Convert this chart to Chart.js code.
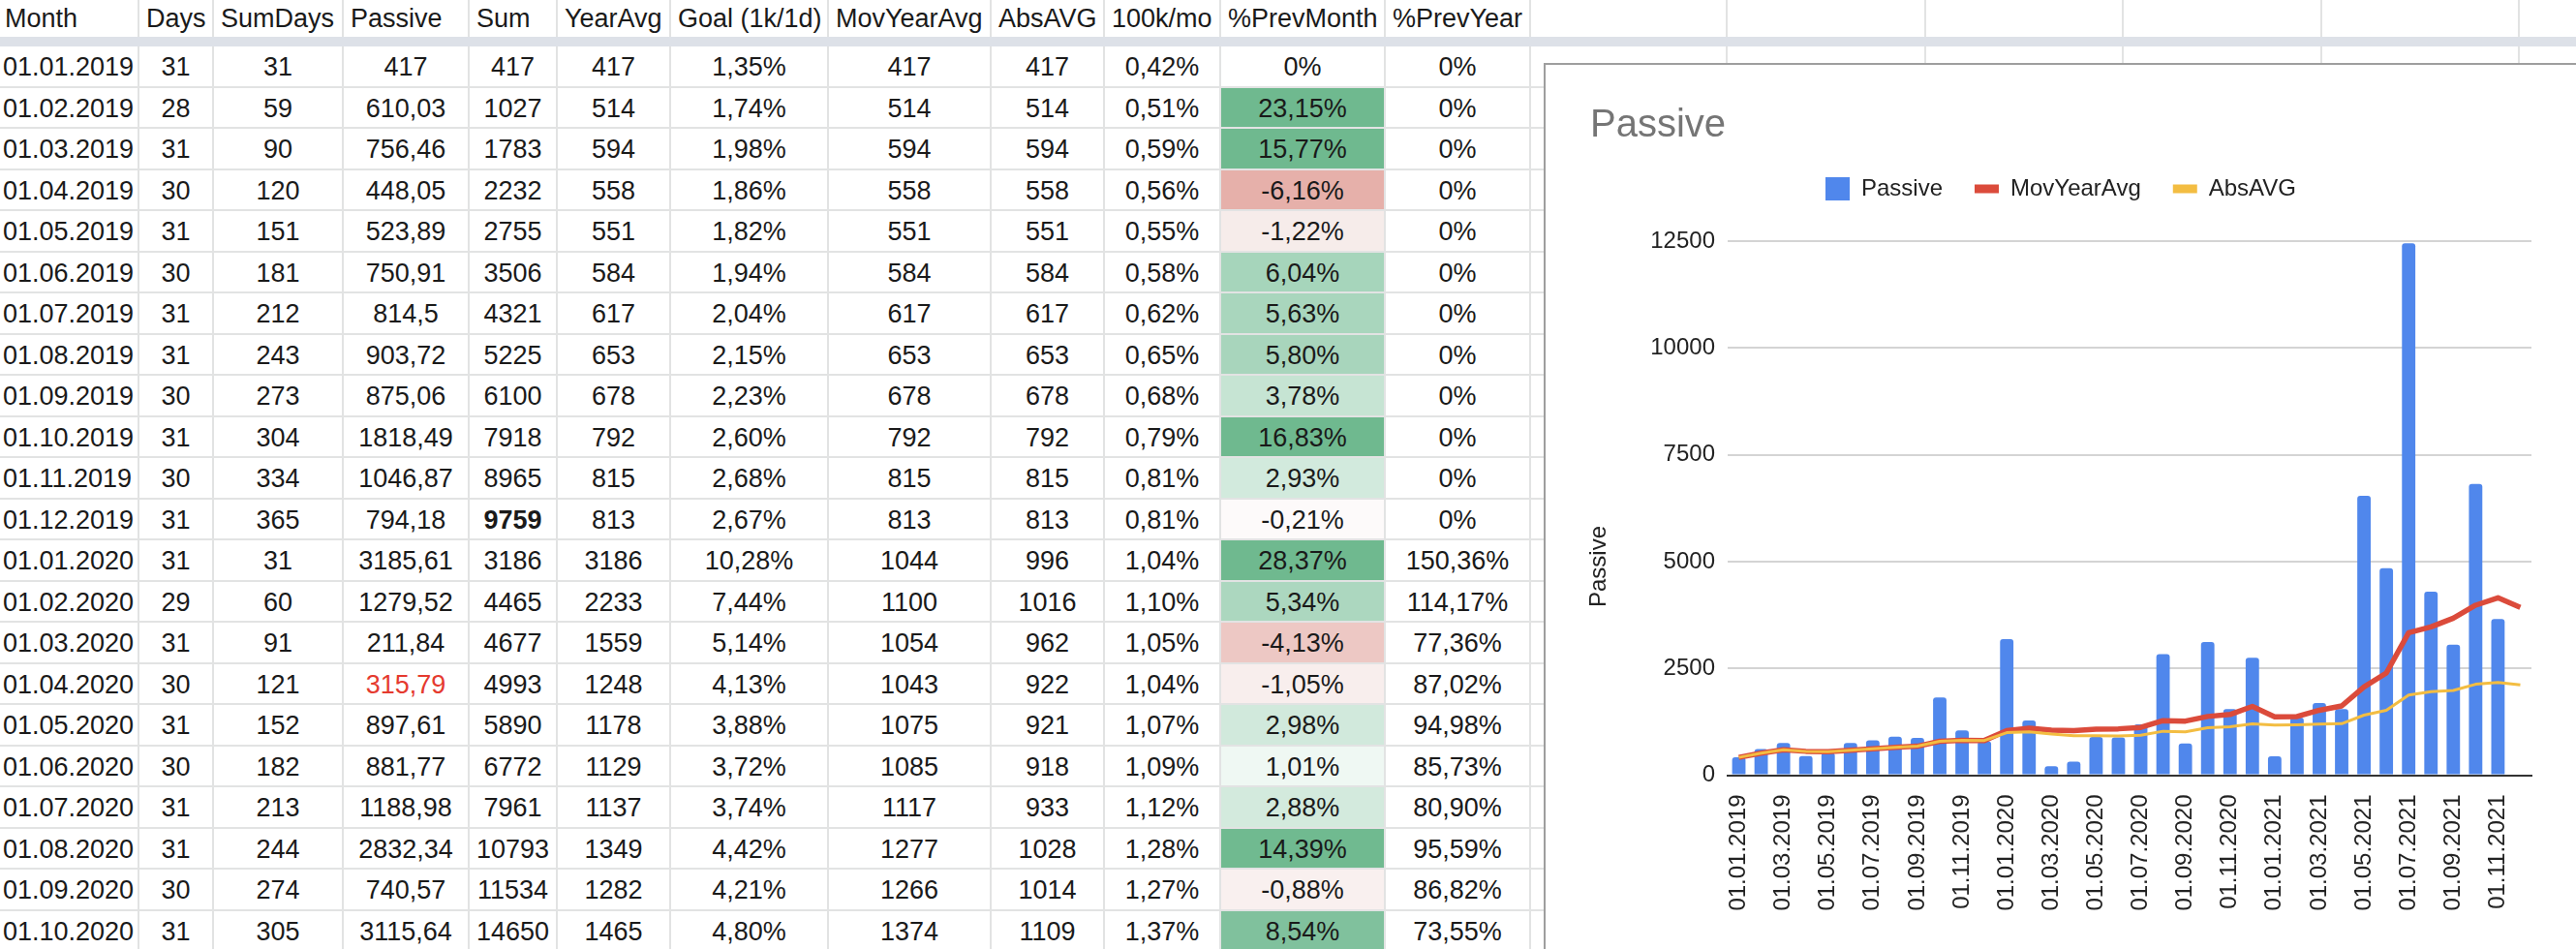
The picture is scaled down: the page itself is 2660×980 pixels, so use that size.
<!DOCTYPE html>
<html lang="de">
<head>
  <meta charset="UTF-8" />
  <title>Passive</title>
  <script src="https://cdn.jsdelivr.net/npm/chart.js"></script>
  <style>
    html, body { margin: 0; padding: 0; background: #fff; }
    body {
      width: 2660px; height: 980px; overflow: hidden; position: relative;
      font-family: "Liberation Sans", Arial, Helvetica, sans-serif; color: #1a1a1a;
    }
    .cell {
      position: absolute; box-sizing: border-box;
      border-right: 2px solid #e2e3e3; border-bottom: 2px solid #e2e3e3;
      font-size: 27px; white-space: nowrap; overflow: hidden;
    }
    .hd { line-height: 38px; padding-left: 7px; border-bottom: none; }
    .dt { line-height: 37.5px; padding-top: 3px; text-align: center; }
    .dt.first { text-align: left; padding-left: 3px; }
    .hd.first { padding-left: 5px; }
    .freeze { position: absolute; left: 0; top: 38px; width: 2660px; height: 10px; background: #dde1e8; }
    #chartBox {
      position: absolute; left: 1594px; top: 65px; width: 1080px; height: 930px;
      border: 2px solid #9e9e9e; background: #fff; z-index: 2;
    }
    #chartBox canvas { position: absolute; left: 0; top: 0; }
  </style>
</head>
<body>
  <div id="sheet"></div>
  <div class="freeze"></div>

  <div id="chartBox">
    <canvas id="passiveChart" width="1064" height="913"></canvas>
  </div>

  <script>
    // chart data (month per row, Dec 2021 has no Passive value)
    const months = [
      '01.01.2019', '01.02.2019', '01.03.2019', '01.04.2019', '01.05.2019', '01.06.2019',
      '01.07.2019', '01.08.2019', '01.09.2019', '01.10.2019', '01.11.2019', '01.12.2019',
      '01.01.2020', '01.02.2020', '01.03.2020', '01.04.2020', '01.05.2020', '01.06.2020',
      '01.07.2020', '01.08.2020', '01.09.2020', '01.10.2020', '01.11.2020', '01.12.2020',
      '01.01.2021', '01.02.2021', '01.03.2021', '01.04.2021', '01.05.2021', '01.06.2021',
      '01.07.2021', '01.08.2021', '01.09.2021', '01.10.2021', '01.11.2021', '01.12.2021'
    ];
    const passive = [
      417, 610.03, 756.46, 448.05, 523.89, 750.91, 814.5, 903.72, 875.06, 1818.49, 1046.87, 794.18,
      3185.61, 1279.52, 211.84, 315.79, 897.61, 881.77, 1188.98, 2832.34, 740.57, 3115.64, 1545, 2746,
      442, 1350, 1688, 1545, 6539, 4846, 12450, 4295, 3056, 6818, 3653, null
    ];
    const movYearAvg = [
      417, 514, 594, 558, 551, 584, 617, 653, 678, 792, 815, 813,
      1044, 1100, 1054, 1043, 1075, 1085, 1117, 1277, 1266, 1374, 1420, 1610,
      1365, 1372, 1520, 1620, 2066, 2391, 3336, 3472, 3676, 3978, 4152, 3925
    ];
    const absAvg = [
      417, 514, 594, 558, 551, 584, 617, 653, 678, 792, 815, 813,
      996, 1016, 962, 922, 921, 918, 933, 1028, 1014, 1109, 1135, 1200,
      1172, 1178, 1195, 1205, 1405, 1518, 1877, 1955, 1982, 2128, 2170, 2115
    ];
    const yTickValues = [0, 2500, 5000, 7500, 10000, 12500];
    const yAxisTitle = 'Passive';

    // table columns (rows 01.01.2019 - 01.10.2020)
    const headers = ['Month', 'Days', 'SumDays', 'Passive', 'Sum', 'YearAvg', 'Goal (1k/1d)',
      'MovYearAvg', 'AbsAVG', '100k/mo', '%PrevMonth', '%PrevYear'];
    const days = [31, 28, 31, 30, 31, 30, 31, 31, 30, 31, 30, 31, 31, 29, 31, 30, 31, 30, 31, 31, 30, 31];
    const sumDays = [31, 59, 90, 120, 151, 181, 212, 243, 273, 304, 334, 365, 31, 60, 91, 121, 152, 182, 213, 244, 274, 305];
    const sums = [417, 1027, 1783, 2232, 2755, 3506, 4321, 5225, 6100, 7918, 8965, 9759,
      3186, 4465, 4677, 4993, 5890, 6772, 7961, 10793, 11534, 14650];
    const yearAvg = [417, 514, 594, 558, 551, 584, 617, 653, 678, 792, 815, 813,
      3186, 2233, 1559, 1248, 1178, 1129, 1137, 1349, 1282, 1465];
    const goal = ['1,35%', '1,74%', '1,98%', '1,86%', '1,82%', '1,94%', '2,04%', '2,15%', '2,23%', '2,60%', '2,68%', '2,67%',
      '10,28%', '7,44%', '5,14%', '4,13%', '3,88%', '3,72%', '3,74%', '4,42%', '4,21%', '4,80%'];
    const per100k = ['0,42%', '0,51%', '0,59%', '0,56%', '0,55%', '0,58%', '0,62%', '0,65%', '0,68%', '0,79%', '0,81%', '0,81%',
      '1,04%', '1,10%', '1,05%', '1,04%', '1,07%', '1,09%', '1,12%', '1,28%', '1,27%', '1,37%'];
    const prevMonth = ['0%', '23,15%', '15,77%', '-6,16%', '-1,22%', '6,04%', '5,63%', '5,80%', '3,78%', '16,83%', '2,93%', '-0,21%',
      '28,37%', '5,34%', '-4,13%', '-1,05%', '2,98%', '1,01%', '2,88%', '14,39%', '-0,88%', '8,54%'];
    const prevYear = ['0%', '0%', '0%', '0%', '0%', '0%', '0%', '0%', '0%', '0%', '0%', '0%',
      '150,36%', '114,17%', '77,36%', '87,02%', '94,98%', '85,73%', '80,90%', '95,59%', '86,82%', '73,55%'];
    const prevMonthFill = ['#ffffff', '#6fb98f', '#6fb98f', '#e6b0aa', '#f6ecea', '#a6d5bb', '#a9d6bd', '#a8d5bc', '#c6e4d3', '#6fb98f', '#d2eadd', '#fdfafa',
      '#6fb98f', '#acd7bf', '#edc8c4', '#f8eeed', '#d1e9dc', '#eff8f3', '#d3eadd', '#70ba90', '#f9f0ef', '#80c19d'];

    // --- spreadsheet grid ---
    const colWidths = [144, 77, 134, 130, 91, 117, 163, 168, 117, 120, 170, 150, 203, 205, 204, 205, 204, 205];
    const rowTop = 48, rowH = 42.5;
    const sheet = document.getElementById('sheet');

    function addCell(cls, left, top, w, h, text) {
      const d = document.createElement('div');
      d.className = 'cell ' + cls;
      d.style.left = left + 'px';
      d.style.top = top + 'px';
      d.style.width = w + 'px';
      d.style.height = h + 'px';
      d.textContent = text;
      sheet.appendChild(d);
      return d;
    }

    let x = 0;
    colWidths.forEach((w, c) => {
      addCell('hd' + (c === 0 ? ' first' : ''), x, 0, w, 38, headers[c] || '');
      x += w;
    });

    const fmt = v => String(v).replace('.', ',');
    for (let r = 0; r < 22; r++) {
      const rowVals = [months[r], days[r], sumDays[r], fmt(passive[r]), sums[r], yearAvg[r], goal[r],
        movYearAvg[r], absAvg[r], per100k[r], prevMonth[r], prevYear[r]];
      let left = 0;
      colWidths.forEach((w, c) => {
        const txt = c < rowVals.length ? String(rowVals[c]) : '';
        const d = addCell('dt' + (c === 0 ? ' first' : ''), left, rowTop + r * rowH, w, rowH, txt);
        if (c === 10) d.style.background = prevMonthFill[r];
        if (c === 3 && r === 15) d.style.color = '#e53a2f';
        if (c === 4 && r === 11) d.style.fontWeight = 'bold';
        left += w;
      });
    }

    // --- chart ---
    Chart.defaults.font.family = '"Liberation Sans", Arial, Helvetica, sans-serif';
    Chart.defaults.color = '#222';

    const yTitlePlugin = {
      id: 'yTitle',
      afterDraw(chart) {
        const { ctx, chartArea } = chart;
        ctx.save();
        ctx.translate(chartArea.left - 132.5, chartArea.bottom - 215.5);
        ctx.rotate(-Math.PI / 2);
        ctx.font = '24px "Liberation Sans", Arial, sans-serif';
        ctx.fillStyle = '#222';
        ctx.textAlign = 'center';
        ctx.textBaseline = 'middle';
        ctx.fillText(yAxisTitle, 0, 0);
        ctx.restore();
      }
    };

    const ctx = document.getElementById('passiveChart').getContext('2d');
    new Chart(ctx, {
      type: 'bar',
      data: {
        labels: months,
        datasets: [
          {
            type: 'bar',
            label: 'Passive',
            data: passive,
            backgroundColor: '#5087ec',
            barPercentage: 0.6,
            categoryPercentage: 1,
            borderRadius: 3,
            order: 3
          },
          {
            type: 'line',
            label: 'MovYearAvg',
            data: movYearAvg,
            borderColor: '#db4b3b',
            backgroundColor: '#db4b3b',
            borderWidth: 5.5,
            borderJoinStyle: 'round',
            pointRadius: 0,
            tension: 0,
            order: 2
          },
          {
            type: 'line',
            label: 'AbsAVG',
            data: absAvg,
            borderColor: '#f3bd42',
            backgroundColor: '#f3bd42',
            borderWidth: 3,
            borderJoinStyle: 'round',
            pointRadius: 0,
            tension: 0,
            order: 1
          }
        ]
      },
      options: {
        responsive: false,
        devicePixelRatio: 1,
        animation: false,
        layout: { padding: { left: 46, right: 46, top: 0, bottom: 0 } },
        plugins: {
          title: {
            display: true,
            text: 'Passive',
            align: 'start',
            color: '#757575',
            font: { size: 40, weight: 'normal' },
            padding: { top: 39, bottom: -4 }
          },
          subtitle: {
            display: true,
            text: '',
            weight: 500,
            font: { size: 10, lineHeight: 1 },
            padding: { top: 22, bottom: 0 }
          },
          legend: {
            position: 'top',
            align: 'center',
            labels: {
              usePointStyle: true,
              pointStyleWidth: 25,
              padding: 33,
              color: '#222',
              font: { size: 24 },
              sort: (a, b) => a.datasetIndex - b.datasetIndex,
              generateLabels(chart) {
                const items = Chart.defaults.plugins.legend.labels.generateLabels(chart);
                items.forEach(it => {
                  const ds = chart.data.datasets[it.datasetIndex];
                  if (ds.type === 'line') {
                    it.pointStyle = 'line';
                    it.lineWidth = 9;
                    it.strokeStyle = ds.borderColor;
                  } else {
                    it.pointStyle = 'rect';
                    it.lineWidth = 0;
                    it.fillStyle = ds.backgroundColor;
                  }
                });
                return items;
              }
            }
          },
          tooltip: { enabled: false }
        },
        scales: {
          x: {
            offset: true,
            grid: { display: false },
            border: { display: true, color: '#333', width: 2 },
            ticks: {
              autoSkip: false,
              minRotation: 90,
              maxRotation: 90,
              padding: 12,
              color: '#222',
              font: { size: 24 },
              callback(v, i) { return i % 2 === 0 ? months[i] : ''; }
            },
            afterFit(s) { s.height = 179.5; }
          },
          y: {
            min: 0,
            max: 12500,
            border: { display: false },
            grid: {
              drawTicks: false,
              lineWidth: 2,
              color: c => (c.tick && c.tick.value === 0 ? '#333' : '#d4d4d4')
            },
            afterBuildTicks(s) { s.ticks = yTickValues.map(v => ({ value: v })); },
            ticks: {
              padding: 13,
              color: '#222',
              font: { size: 24 },
              callback: v => String(v)
            },
            afterFit(s) { s.width = 142; }
          }
        }
      },
      plugins: [yTitlePlugin]
    });
  </script>
</body>
</html>
